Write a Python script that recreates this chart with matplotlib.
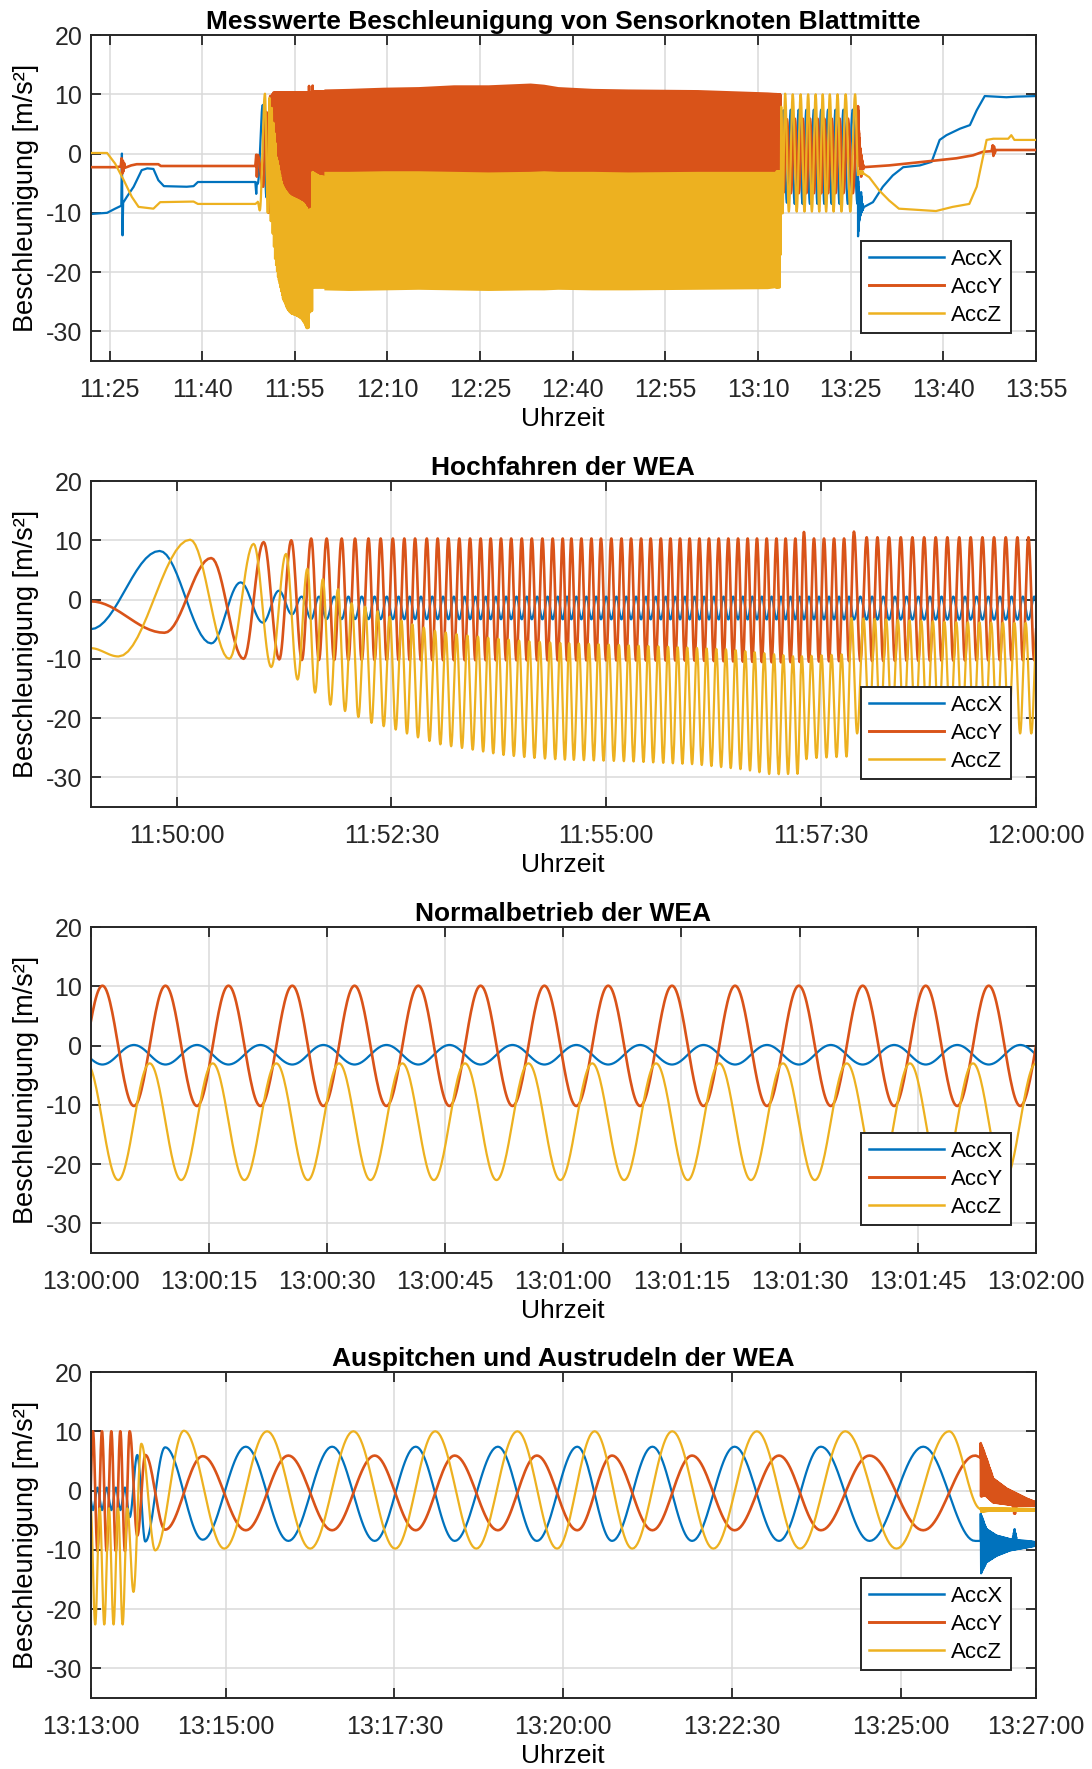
import numpy as np
import matplotlib
matplotlib.use("Agg")
import matplotlib.pyplot as plt
from matplotlib.ticker import FixedLocator, FixedFormatter

plt.rcParams['font.family'] = ['Liberation Sans', 'DejaVu Sans']

COLORS = {"AccX": "#0072BD", "AccY": "#D95319", "AccZ": "#EDB120"}
WIDTHS = {"AccX": 1.6, "AccY": 1.9, "AccZ": 1.6}
Y_TICKS = [-30, -20, -10, 0, 10, 20]

# ---------------- panel 1: overview (minutes since 11:00) ----------------
P1_TICKS = ["11:25", "11:40", "11:55", "12:10", "12:25", "12:40", "12:55",
            "13:10", "13:25", "13:40", "13:55"]
P1_START = 21.93

# before start-up
P1_PRE_X_T = [21.93, 24.6, 25.9, 26.9, 27.0, 27.1, 27.2, 27.8, 28.9, 30.2, 31.1,
              32.1, 32.9, 33.8, 37.5, 38.6, 39.3, 48.6, 48.75, 48.85, 49.0]
P1_PRE_X_V = [-10.2, -10.0, -9.3, -8.8, 0.0, -13.8, -8.3, -7.3, -5.6, -2.8, -2.5,
              -2.6, -4.5, -5.5, -5.6, -5.5, -4.8, -4.8, -6.8, -4.9, -5.0]
P1_PRE_Y_T = [21.93, 26.0, 26.8, 26.95, 27.05, 27.15, 27.25, 27.35, 27.5, 28.5,
              29.4, 32.9, 33.3, 48.6, 48.75, 48.85, 49.0]
P1_PRE_Y_V = [-2.3, -2.3, -2.2, -0.8, -3.4, -1.2, -3.0, -1.6, -2.4, -2.0,
              -1.8, -1.8, -2.1, -2.1, -0.2, -3.9, -0.3]
P1_PRE_Z_T = [21.93, 24.6, 25.9, 27.3, 28.6, 29.7, 32.1, 33.2, 38.6, 39.3, 48.6, 49.0]
P1_PRE_Z_V = [0.1, 0.1, -1.7, -4.5, -7.3, -9.0, -9.3, -8.2, -8.1, -8.5, -8.5, -8.2]

# normal operation 12:00 - 13:13 (envelopes of the dense oscillation)
P1_BAND_T = [59.7, 63.7, 69.4, 75.0, 80.7, 86.3, 93.1, 95.3, 97.6, 103.2, 108.9,
             120.2, 131.5, 133.0]
P1_BAND_Y_UP = [10.9, 11.0, 11.2, 11.3, 11.6, 11.6, 11.9, 11.7, 11.3, 11.0, 10.9,
                10.8, 10.4, 10.3]
P1_BAND_Y_LO = [-10.2] * 14
P1_BAND_X_UP = [0.5] * 14
P1_BAND_X_LO = [-3.3] * 14
P1_BAND_Z_UP = [-3.0, -3.0, -2.9, -2.9, -3.0, -3.1, -3.0, -2.9, -3.0, -3.0, -3.1,
                -3.0, -3.0, -3.0]
P1_BAND_Z_LO = [-23.0, -23.1, -23.0, -22.9, -23.0, -23.1, -23.0, -23.0, -22.9,
                -23.0, -23.0, -22.9, -22.8, -22.6]

# after stop (13:27 - 13:55)
P1_POST_X_T = [147.0, 148.6, 150.2, 151.8, 153.5, 156.2, 158.1, 159.4, 160.5,
               162.7, 164.3, 165.4, 166.7, 170.2, 171.8, 175.0]
P1_POST_X_V = [-9.1, -8.2, -5.6, -3.7, -2.3, -2.0, -1.4, 2.3, 3.1,
               4.2, 4.8, 7.3, 9.7, 9.5, 9.6, 9.7]
P1_POST_Y_T = [147.0, 151.2, 156.7, 162.1, 164.8, 166.4, 167.8, 168.0, 168.1,
               168.2, 168.3, 168.5, 169.1, 175.0]
P1_POST_Y_V = [-2.3, -2.0, -1.4, -0.8, -0.3, 0.3, 0.4, 1.4, -0.4,
               1.2, 0.0, 0.6, 0.6, 0.6]
P1_POST_Z_T = [147.0, 148.0, 149.6, 151.2, 152.8, 158.8, 161.5, 164.2, 165.4,
               167.0, 168.1, 170.5, 171.0, 171.5, 175.0]
P1_POST_Z_V = [-3.3, -4.0, -6.2, -7.9, -9.3, -9.7, -9.0, -8.5, -5.6,
               2.3, 2.5, 2.5, 3.1, 2.3, 2.3]

# ---------------- panel 2: start-up (s after 11:49:00) ----------------
P2_T0 = "11:49:00"
P2_TICKS = ["11:50:00", "11:52:30", "11:55:00", "11:57:30", "12:00:00"]
P2_LEN = 660.0
# single extrema of the first slow revolutions
P2_X_EXT_T = [0.0, 48.2, 84.2, 104.7, 120.3, 131.5, 140.6, 147.3]
P2_X_EXT_V = [-5.0, 8.2, -7.4, 2.9, -3.9, 1.5, -2.5, 0.5]
P2_Y_EXT_T = [0.0, 51.6, 84.2, 106.8, 120.8, 131.7, 140.1, 147.5]
P2_Y_EXT_V = [-0.3, -5.6, 7.0, -10.0, 9.7, -10.1, 10.0, -10.2]
P2_Z_EXT_T = [0.0, 19.5, 69.5, 96.8, 113.8, 126.1, 136.4, 144.5, 151.3]
P2_Z_EXT_V = [-8.2, -9.6, 10.1, -10.0, 9.4, -11.4, 7.7, -13.5, 5.2]
# AccY peak times once the rotor turns fast
P2_PEAKS = [154.0, 164.8, 175.3, 184.6, 194.0, 202.5, 211.0, 219.0, 226.5, 234.7,
            242.3, 249.8, 257.4, 264.9, 272.3, 279.3, 286.5, 293.6, 301.0, 308.0,
            315.4, 322.6, 329.6, 335.6, 342.6, 349.6, 356.3, 363.5, 370.6, 377.3,
            384.3, 391.0, 398.1, 404.8, 411.5, 418.2, 425.0, 431.7, 438.5, 445.2,
            452.0, 458.7, 465.2, 472.0, 478.8, 485.2, 492.0, 498.0, 505.0, 512.0,
            519.0, 526.0, 532.9, 541.8, 549.3, 557.4, 565.6, 573.7, 581.9, 590.0,
            598.1, 606.4, 614.4, 622.6, 630.7, 638.9, 647.0, 654.7, 662.8, 670.9]
P2_Y_UP_T = [150, 495, 498, 501, 530, 533, 536, 680]
P2_Y_UP_V = [10.3, 10.3, 11.4, 10.3, 10.3, 11.5, 10.5, 10.5]
P2_Y_LO_T = [150, 420, 480, 520, 680]
P2_Y_LO_V = [-10.2, -10.3, -10.6, -10.4, -10.2]
P2_X_UP_T = [150, 680]
P2_X_UP_V = [0.5, 0.5]
P2_X_LO_T = [150, 680]
P2_X_LO_V = [-3.3, -3.4]
P2_Z_UP_T = [151, 173, 182, 195, 208, 225, 241, 257, 280, 303, 326, 398, 445,
             492, 528, 531, 600, 680]
P2_Z_UP_V = [5.2, 1.7, -0.6, -1.4, -2.8, -4.2, -5.3, -5.9, -6.5, -7.0, -7.3, -7.9,
             -8.4, -9.6, -9.2, -3.1, -3.8, -4.0]
P2_Z_LO_T = [157, 167, 177.5, 196, 212.5, 229, 245, 266, 287, 308, 328, 376, 422,
             457, 475, 495, 500, 528, 534, 680]
P2_Z_LO_V = [-15.7, -17.7, -18.8, -20.8, -21.9, -23.3, -24.5, -25.3, -26.2, -26.7,
             -27.0, -27.3, -27.8, -28.7, -29.5, -29.4, -26.8, -26.5, -22.6, -22.6]

# ---------------- panel 3: normal operation (s after 13:00:00) ----------------
P3_T0 = "13:00:00"
P3_TICKS = ["13:00:00", "13:00:15", "13:00:30", "13:00:45", "13:01:00",
            "13:01:15", "13:01:30", "13:01:45", "13:02:00"]
P3_LEN = 120.0
P3_PEAKS = [-6.5, 1.5, 9.5, 17.5, 25.6, 33.5, 41.6, 49.5, 57.6, 65.7, 73.8, 81.8,
            89.9, 98.0, 106.0, 114.0, 122.0, 130.0]
P3_Y_UP_T, P3_Y_UP_V = [-10, 130], [10.1, 10.1]
P3_Y_LO_T, P3_Y_LO_V = [-10, 130], [-10.2, -10.2]
P3_X_UP_T, P3_X_UP_V = [-10, 130], [0.1, 0.1]
P3_X_LO_T, P3_X_LO_V = [-10, 130], [-3.2, -3.2]
P3_Z_UP_T, P3_Z_UP_V = [-10, 130], [-3.0, -3.0]
P3_Z_LO_T, P3_Z_LO_V = [-10, 130], [-22.7, -22.7]

# ---------------- panel 4: pitching out and coasting (s after 13:13:00) -------
P4_T0 = "13:13:00"
P4_TICKS = ["13:13:00", "13:15:00", "13:17:30", "13:20:00", "13:22:30",
            "13:25:00", "13:27:00"]
P4_LEN = 840.0
# AccY extrema (peak / trough alternating); AccX has its extrema at the same times
P4_EXT_T = [-6.0, -2.0, 2.1, 6.1, 10.1, 14.2, 18.4, 22.4, 26.4, 30.5, 34.7, 41.5,
            48.6, 66.2, 99.6, 137.9, 175.7, 214.6, 252.4, 288.9, 323.5, 361.9,
            396.5, 432.4, 463.3, 499.2, 534.4, 572.2, 611.7, 648.9, 692.1, 739.8,
            785.8]
P4_Y = [10.0, -10.2, 10.0, -10.2, 10.0, -10.2, 10.0, -10.2, 10.0, -10.2, 10.0, -7.6,
        6.0, -6.6, 5.8, -6.7, 5.9, -6.7, 5.9, -6.7, 5.9, -6.7, 5.9, -6.7, 5.9,
        -6.7, 5.9, -6.7, 5.9, -6.7, 5.9, -6.7, 5.9]
P4_X = [-3.3, 0.5, -3.3, 0.5, -3.3, 0.5, -3.3, 0.5, -3.3, 0.5, -4.5, 6.0,
        -8.6, 7.3, -8.3, 7.4, -8.5, 7.4, -8.5, 7.4, -8.5, 7.4, -8.5, 7.4, -8.5,
        7.4, -8.5, 7.4, -8.5, 7.4, -8.5, 7.4, -8.5]
# AccZ extrema, halfway between the AccY extrema
P4_Z = [-22.6, -3.0, -22.6, -3.0, -22.6, -3.0, -22.6, -3.0, -22.6, -3.0, -17.1, 7.9,
        -10.1, 10.1, -9.8, 10.0, -9.8, 10.0, -9.8, 10.0, -9.8, 10.0, -9.8, 10.0,
        -9.8, 10.0, -9.8, 10.0, -9.8, 10.0, -9.8, 10.0]
P4_STOP = 790.9
P4_STOP_Y, P4_STOP_X, P4_STOP_Z = 5.6, -8.5, -3.1
# ring-down after the rotor stops: upper / lower envelopes
P4_RD_Y_UP_T = [790.9, 795, 802, 814, 832, 840]
P4_RD_Y_UP_V = [8.0, 5.9, 2.0, 0.3, -1.4, -2.0]
P4_RD_Y_LO_T = [790.9, 795, 802, 814, 819, 821, 823, 832, 840]
P4_RD_Y_LO_V = [-1.0, -0.8, -2.0, -2.3, -2.4, -4.2, -2.5, -2.5, -2.6]
P4_RD_X_UP_T = [790.9, 796, 805, 817, 819, 821, 823, 832, 840]
P4_RD_X_UP_V = [-3.9, -6.5, -7.6, -8.2, -8.3, -6.5, -8.4, -8.5, -8.7]
P4_RD_X_LO_T = [790.9, 796, 805, 817, 832, 840]
P4_RD_X_LO_V = [-14.1, -12.1, -11.0, -10.1, -9.6, -9.3]
P4_RD_Z_UP_T, P4_RD_Z_UP_V = [790.9, 800, 840], [-3.0, -3.0, -3.1]
P4_RD_Z_LO_T, P4_RD_Z_LO_V = [790.9, 800, 840], [-3.6, -3.4, -3.4]

LABELS = ["AccX", "AccY", "AccZ"]
TITLES = ["Messwerte Beschleunigung von Sensorknoten Blattmitte",
          "Hochfahren der WEA", "Normalbetrieb der WEA",
          "Auspitchen und Austrudeln der WEA"]


def hms(text):
    # "HH:MM[:SS]" -> seconds since 11:00
    parts = [int(p) for p in text.split(":")] + [0]
    return (parts[0] - 11) * 3600 + parts[1] * 60 + parts[2]


def ease(ts, vs, n=16):
    # smooth half-cosine run between successive extrema
    out_t, out_v = [ts[0]], [vs[0]]
    s = np.linspace(0, 1, n)[1:]
    for i in range(len(ts) - 1):
        out_t.extend(ts[i] + (ts[i + 1] - ts[i]) * s)
        out_v.extend(vs[i] + (vs[i + 1] - vs[i]) * (1 - np.cos(np.pi * s)) / 2)
    return np.array(out_t), np.array(out_v)


def extrema_from_peaks(peaks, shift, hi_first, up, lo):
    ts, vs = [], []
    for a, b in zip(peaks[:-1], peaks[1:]):
        t1 = a + shift * (b - a)
        t2 = t1 + (b - a) / 2
        ts += [t1, t2]
        if hi_first:
            vs += [np.interp(t1, *up), np.interp(t2, *lo)]
        else:
            vs += [np.interp(t1, *lo), np.interp(t2, *up)]
    return ts, vs


def ringdown(up, lo, start, end, step=0.35):
    ts = np.arange(start, end + step, step)
    vs = np.where(np.arange(len(ts)) % 2 == 0, np.interp(ts, *up), np.interp(ts, *lo))
    return ts, vs


# ---------------- build the curves ----------------
def panel2_curves():
    tx, vx = extrema_from_peaks(P2_PEAKS, 0.0, False, (P2_X_UP_T, P2_X_UP_V), (P2_X_LO_T, P2_X_LO_V))
    ty, vy = extrema_from_peaks(P2_PEAKS, 0.0, True, (P2_Y_UP_T, P2_Y_UP_V), (P2_Y_LO_T, P2_Y_LO_V))
    tz, vz = extrema_from_peaks(P2_PEAKS, 0.25, False, (P2_Z_UP_T, P2_Z_UP_V), (P2_Z_LO_T, P2_Z_LO_V))
    t0 = hms(P2_T0)
    out = []
    for et, ev, gt, gv in [(P2_X_EXT_T, P2_X_EXT_V, tx, vx), (P2_Y_EXT_T, P2_Y_EXT_V, ty, vy),
                           (P2_Z_EXT_T, P2_Z_EXT_V, tz, vz)]:
        t, v = ease(list(et) + list(gt), list(ev) + list(gv))
        out.append((t + t0, v))
    return out


def panel3_curves():
    t0 = hms(P3_T0)
    out = []
    for shift, hi, up, lo in [(0.0, False, (P3_X_UP_T, P3_X_UP_V), (P3_X_LO_T, P3_X_LO_V)),
                              (0.0, True, (P3_Y_UP_T, P3_Y_UP_V), (P3_Y_LO_T, P3_Y_LO_V)),
                              (0.25, False, (P3_Z_UP_T, P3_Z_UP_V), (P3_Z_LO_T, P3_Z_LO_V))]:
        ts, vs = extrema_from_peaks(P3_PEAKS, shift, hi, up, lo)
        t, v = ease(ts, vs, n=30)
        out.append((t + t0, v))
    return out


def panel4_curves():
    t0 = hms(P4_T0)
    mids = [(a + b) / 2 for a, b in zip(P4_EXT_T[:-1], P4_EXT_T[1:])]
    parts = [(P4_EXT_T, P4_X, P4_STOP_X, (P4_RD_X_UP_T, P4_RD_X_UP_V), (P4_RD_X_LO_T, P4_RD_X_LO_V)),
             (P4_EXT_T, P4_Y, P4_STOP_Y, (P4_RD_Y_UP_T, P4_RD_Y_UP_V), (P4_RD_Y_LO_T, P4_RD_Y_LO_V)),
             (mids, P4_Z, P4_STOP_Z, (P4_RD_Z_UP_T, P4_RD_Z_UP_V), (P4_RD_Z_LO_T, P4_RD_Z_LO_V))]
    out = []
    for et, ev, stop_v, up, lo in parts:
        t, v = ease(list(et) + [P4_STOP], list(ev) + [stop_v], n=24)
        rt, rv = ringdown(up, lo, P4_STOP, P4_LEN)
        out.append((np.concatenate([t, rt]) + t0, np.concatenate([v, rv])))
    return out


P2_CURVES = panel2_curves()
P3_CURVES = panel3_curves()
P4_CURVES = panel4_curves()

# ---------------- figure ----------------
fig = plt.figure(figsize=(10.92, 17.69), dpi=100)
LEFT, WIDTH, HEIGHT = 0.08297, 0.86575, 0.18428
BOTTOMS = [0.79593, 0.54381, 0.29169, 0.04014]
axes = [fig.add_axes([LEFT, b, WIDTH, HEIGHT]) for b in BOTTOMS]


def style(ax, title, xlim, ticks):
    ax.set_xlim(*xlim)
    ax.set_ylim(-35, 20)
    ax.yaxis.set_major_locator(FixedLocator(Y_TICKS))
    ax.set_yticklabels([str(v) for v in Y_TICKS])
    ax.xaxis.set_major_locator(FixedLocator([hms(t) for t in ticks]))
    ax.xaxis.set_major_formatter(FixedFormatter(ticks))
    ax.grid(True, color="#dadada", lw=1.1)
    ax.set_axisbelow(True)
    ax.tick_params(direction="in", length=7, width=1.3, top=True, right=True,
                   labelsize=18, colors="#262626")
    ax.tick_params(axis="x", pad=12)
    ax.tick_params(axis="y", pad=6)
    for sp in ax.spines.values():
        sp.set_linewidth(1.4)
        sp.set_color("#262626")
    ax.set_title(title, fontsize=19, fontweight="bold", pad=4.5)
    ax.set_xlabel("Uhrzeit", fontsize=19, labelpad=3.5)
    ax.set_ylabel("Beschleunigung [m/s²]", fontsize=19.5, labelpad=5)
    handles = [plt.Line2D([], [], color=COLORS[k], lw=WIDTHS[k] + 0.2) for k in LABELS]
    leg = ax.legend(handles, LABELS, loc="lower right", bbox_to_anchor=(0.9733, 0.085),
                    borderaxespad=0, fontsize=16, fancybox=False, framealpha=1,
                    edgecolor="#262626", handlelength=3.4, handletextpad=0.3,
                    labelspacing=0.3, borderpad=0.35)
    leg.set_zorder(10)
    leg.get_frame().set_linewidth(1.4)


# panel 1: AccX below AccY below AccZ, lines and bands alike
ax = axes[0]
pre = [(P1_PRE_X_T, P1_PRE_X_V), (P1_PRE_Y_T, P1_PRE_Y_V), (P1_PRE_Z_T, P1_PRE_Z_V)]
post = [(P1_POST_X_T, P1_POST_X_V), (P1_POST_Y_T, P1_POST_Y_V), (P1_POST_Z_T, P1_POST_Z_V)]
bands = [(P1_BAND_X_UP, P1_BAND_X_LO), (P1_BAND_Y_UP, P1_BAND_Y_LO), (P1_BAND_Z_UP, P1_BAND_Z_LO)]
band_t = np.array(P1_BAND_T) * 60
for i, key in enumerate(LABELS):
    c, lw, z = COLORS[key], WIDTHS[key], 2 + i
    ax.plot(np.array(pre[i][0]) * 60, pre[i][1], color=c, lw=lw, zorder=z)
    ax.plot(*P2_CURVES[i], color=c, lw=lw, zorder=z)
    ax.fill_between(band_t, bands[i][1], bands[i][0], color=c, lw=0, zorder=z)
    ax.plot(*P4_CURVES[i], color=c, lw=lw, zorder=z)
    ax.plot(np.array(post[i][0]) * 60, post[i][1], color=c, lw=lw, zorder=z)
style(ax, TITLES[0], (P1_START * 60, hms(P1_TICKS[-1])), P1_TICKS)

# panels 2-4
for ax, curves, t0, length, ticks, title in [
        (axes[1], P2_CURVES, P2_T0, P2_LEN, P2_TICKS, TITLES[1]),
        (axes[2], P3_CURVES, P3_T0, P3_LEN, P3_TICKS, TITLES[2]),
        (axes[3], P4_CURVES, P4_T0, P4_LEN, P4_TICKS, TITLES[3])]:
    for (t, v), key in zip(curves, LABELS):
        ax.plot(t, v, color=COLORS[key], lw=WIDTHS[key])
    style(ax, title, (hms(t0), hms(t0) + length), ticks)

fig.savefig("out.png", dpi=100)
